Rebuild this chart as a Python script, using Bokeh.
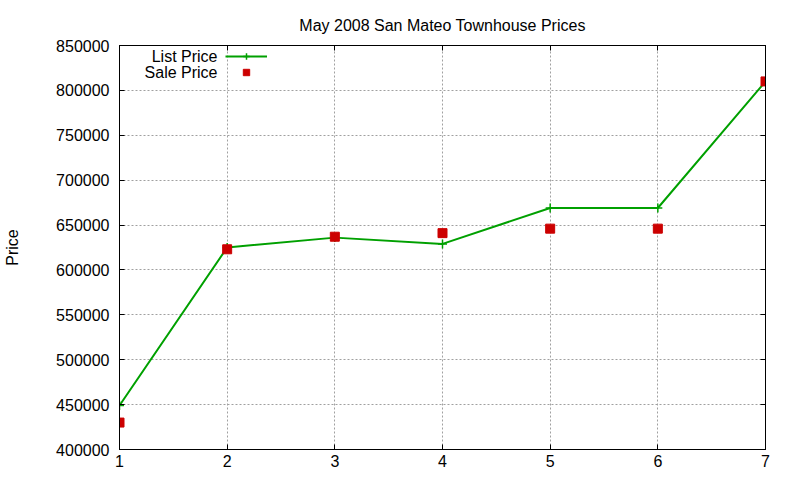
from bokeh.plotting import figure
from bokeh.models import (LinearAxis, Legend, LegendItem, Label, FixedTicker,
                          Range1d, BasicTickFormatter, CustomJSTickFormatter)
from bokeh.embed import file_html
from bokeh.resources import INLINE

# listings 1..7, May 2008 San Mateo townhouses
listing = [1, 2, 3, 4, 5, 6, 7]
list_price = [449000, 625000, 636000, 629000, 669000, 669000, 810000]
sale_price = [430000, 623000, 637000, 641000, 646000, 646000, 810000]
x_ticks = [1, 2, 3, 4, 5, 6, 7]
y_ticks = [400000, 450000, 500000, 550000, 600000, 650000, 700000, 750000,
           800000, 850000]

FONT = "Liberation Sans"
GREEN = "#00a000"
RED = "#cc0000"

p = figure(width=792, height=472, output_backend="svg", toolbar_location=None,
           x_range=Range1d(1, 7), y_range=Range1d(400000, 850000),
           min_border_left=119, min_border_right=27,
           min_border_top=45, min_border_bottom=23,
           title="May 2008 San Mateo Townhouse Prices")
p.title.align = "center"
p.title.text_font = FONT
p.title.text_font_size = "16px"
p.title.text_font_style = "normal"
p.title.text_color = "black"
p.title.standoff = 23

p.outline_line_color = "black"
p.outline_line_width = 1
p.background_fill_color = "white"
p.border_fill_color = "white"

for g in (p.xgrid, p.ygrid):
    g.grid_line_color = "#a0a0a0"
    g.grid_line_dash = "2 2"
    g.grid_line_width = 1
p.xgrid.ticker = FixedTicker(ticks=x_ticks)
p.ygrid.ticker = FixedTicker(ticks=y_ticks)

def style_axis(ax, ticks, labels=True):
    ax.ticker = FixedTicker(ticks=ticks)
    ax.axis_line_color = "black"
    ax.major_tick_line_color = "black"
    ax.major_tick_in = 5
    ax.major_tick_out = 0
    ax.minor_tick_line_color = None
    ax.major_label_text_font = FONT
    ax.major_label_text_color = "black"
    ax.major_label_text_font_size = "16px"
    if not labels:
        # mirror axis: ticks only
        ax.formatter = CustomJSTickFormatter(code="return ''")
        ax.major_label_standoff = 0

style_axis(p.xaxis[0], x_ticks)
style_axis(p.yaxis[0], y_ticks)
p.xaxis.major_label_standoff = 5
p.yaxis.major_label_standoff = 10
p.yaxis.formatter = BasicTickFormatter(use_scientific=False)
p.yaxis.axis_label = "Price"
p.yaxis.axis_label_text_font = FONT
p.yaxis.axis_label_text_font_size = "16px"
p.yaxis.axis_label_text_font_style = "normal"
p.yaxis.axis_label_text_color = "black"
p.yaxis.axis_label_standoff = 32

right_ax = LinearAxis()
style_axis(right_ax, y_ticks, labels=False)
p.add_layout(right_ax, "right")
top_ax = LinearAxis()
style_axis(top_ax, x_ticks, labels=False)
p.add_layout(top_ax, "above")

ln = p.line(listing, list_price, line_color=GREEN, line_width=2)
pl = p.scatter(listing, list_price, marker="cross", size=9,
               line_color=GREEN, line_width=1.5)
sq = p.scatter(listing, sale_price, marker="square", size=9,
               fill_color=RED, line_color=RED)

# gnuplot-style key: text on the left, sample on the right
legend = Legend(items=[LegendItem(label=" ", renderers=[ln, pl]),
                       LegendItem(label=" ", renderers=[sq])],
                location=(106, 369), padding=0, margin=0, spacing=0,
                glyph_width=42, glyph_height=16, label_width=0,
                label_standoff=0, label_text_font_size="1px",
                border_line_color=None, background_fill_alpha=0)
p.add_layout(legend)
for txt, yy in (("List Price", 393), ("Sale Price", 377)):
    p.add_layout(Label(x=98, y=yy, x_units="screen", y_units="screen",
                       text=txt, text_align="right", text_baseline="middle",
                       text_color="black", text_font=FONT,
                       text_font_size="16px"))

open("out.html", "w").write(file_html(p, INLINE))
